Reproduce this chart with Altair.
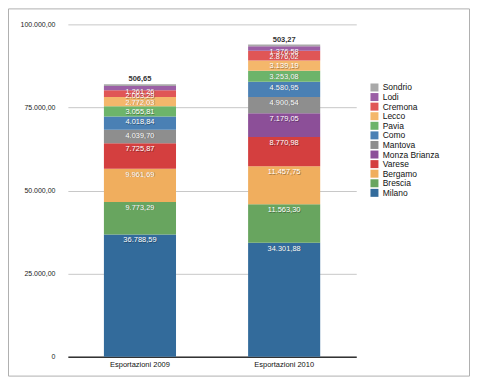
import altair as alt
import pandas as pd

years = ["Esportazioni 2009", "Esportazioni 2010"]
provinces = ["Milano", "Brescia", "Bergamo", "Varese", "Monza Brianza", "Mantova",
             "Como", "Pavia", "Lecco", "Cremona", "Lodi", "Sondrio"]
values_2009 = [36788.59, 9773.29, 9961.69, 7725.87, 0.0, 4039.70,
               4018.84, 3055.81, 2772.03, 2063.29, 1261.26, 506.65]
values_2010 = [34301.88, 11563.30, 11457.75, 8770.98, 7179.05, 4900.54,
               4580.95, 3253.08, 3139.19, 2876.02, 1376.58, 503.27]
colors = ["#336b9b", "#68a55f", "#f0ae5e", "#d43f3f", "#8c4f98", "#8e8e8e",
          "#4a80b4", "#6db46a", "#f4b76b", "#e05656", "#9b5fa5", "#a9a9a9"]
y_ticks = [0, 25000, 50000, 75000, 100000]

rows = []
for yr, vals in zip(years, [values_2009, values_2010]):
    for i, (p, v) in enumerate(zip(provinces, vals)):
        if v > 0:
            rows.append({"anno": yr, "provincia": p, "valore": v, "ord": i})
df = pd.DataFrame(rows)

font = "Liberation Sans"

base = alt.Chart(df).transform_stack(
    stack="valore", as_=["v0", "v1"], groupby=["anno"],
    sort=[alt.SortField("ord", order="ascending")]
)

xenc = alt.X("anno:N", title=None,
             scale=alt.Scale(domain=years, paddingInner=0.5, paddingOuter=0.25),
             axis=alt.Axis(labelAngle=0, labelFontSize=7.5, labelColor="#111",
                           labelFont=font, labelPadding=4, ticks=False,
                           domainColor="#333", domainWidth=1.5))

bars = base.mark_bar(stroke=None).encode(
    x=xenc,
    y=alt.Y("v0:Q", title=None,
            scale=alt.Scale(domain=[0, 100000], nice=False),
            axis=alt.Axis(values=y_ticks, format=",.2f",
                          labelExpr="datum.value == 0 ? '0' : datum.label",
                          labelFontSize=7, labelColor="#222", labelFont=font,
                          labelPadding=13, ticks=False, domain=False,
                          grid=True, gridColor="#c8c8c8")),
    y2="v1:Q",
    color=alt.Color("provincia:N", title=None,
                    scale=alt.Scale(domain=provinces[::-1], range=colors[::-1]),
                    legend=alt.Legend(orient="none", legendX=303, legendY=59,
                                      symbolType="square", symbolSize=64,
                                      symbolStrokeWidth=0, labelFontSize=8.5,
                                      labelFont=font, labelColor="#111",
                                      rowPadding=0.6, symbolOpacity=1)),
)

shadow = base.transform_filter("datum.provincia != 'Sondrio'").mark_text(
    baseline="top", dy=2.5, dx=0.6, fontSize=7.5, font=font, color="#000", opacity=0.35
).encode(x=alt.X("anno:N"), y=alt.Y("v1:Q"), text=alt.Text("valore:Q", format=",.2f"))

labels = base.transform_filter("datum.provincia != 'Sondrio'").mark_text(
    baseline="top", dy=2, fontSize=7.5, font=font, color="#ffffff"
).encode(x=alt.X("anno:N"), y=alt.Y("v1:Q"), text=alt.Text("valore:Q", format=",.2f"))

top_labels = base.transform_filter("datum.provincia == 'Sondrio'").mark_text(
    baseline="bottom", dy=-1, fontSize=7.5, font=font, color="#333", fontWeight="bold"
).encode(x=alt.X("anno:N"), y=alt.Y("v1:Q"), text=alt.Text("valore:Q", format=",.2f"))

frame = alt.Chart(pd.DataFrame({"a": [0]})).mark_rect(
    fillOpacity=0, stroke="#b0b0b0", strokeWidth=1
).encode(x=alt.value(-59.5), x2=alt.value(402.5), y=alt.value(-15.5), y2=alt.value(352.5))

chart = alt.layer(frame, bars, shadow, labels, top_labels).properties(
    width=289, height=333,
    autosize=alt.AutoSizeParams(type="none"),
    padding={"left": 60, "top": 16, "right": 115, "bottom": 20},
).configure(
    locale={"number": {"decimal": ",", "thousands": ".", "grouping": [3],
                       "currency": ["", " €"]}}
).configure_view(stroke=None)

chart.save("out.html", embed_options={"renderer": "svg", "actions": False})
